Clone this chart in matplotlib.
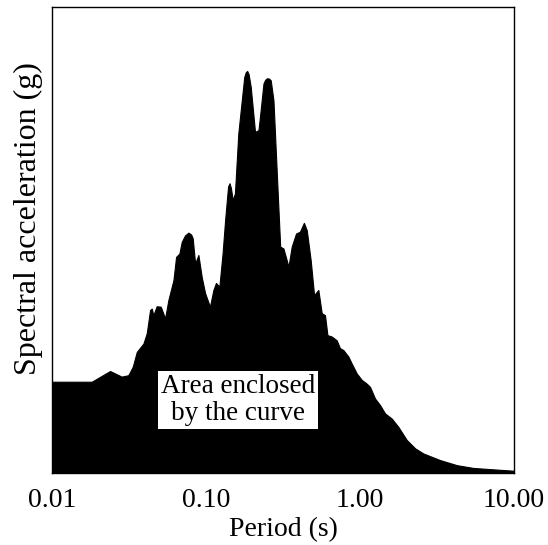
import matplotlib
matplotlib.use("Agg")
import matplotlib.pyplot as plt

plt.rcParams['font.family'] = ['Liberation Serif', 'DejaVu Serif']

# periodo (s) y aceleracion espectral (escala relativa)
periodo = [0.01, 0.0181, 0.0238, 0.0283, 0.0313, 0.0334, 0.0355, 0.0392, 0.0412,
           0.0433, 0.0444, 0.0455, 0.0478, 0.0508, 0.0542, 0.0569, 0.0614, 0.0639,
           0.0671, 0.0695, 0.073, 0.0768, 0.080, 0.0819, 0.0849, 0.0892, 0.0937,
           0.0986, 0.106, 0.1116, 0.116, 0.122, 0.128, 0.133, 0.139, 0.142, 0.145,
           0.149, 0.154, 0.162, 0.177, 0.181, 0.185, 0.189, 0.195, 0.208, 0.219,
           0.224, 0.236, 0.242, 0.248, 0.255, 0.263, 0.274, 0.290, 0.303, 0.318,
           0.343, 0.360, 0.384, 0.407, 0.432, 0.451, 0.478, 0.503, 0.536, 0.564,
           0.592, 0.614, 0.655, 0.705, 0.741, 0.779, 0.840, 0.883, 0.951, 1.025,
           1.104, 1.161, 1.251, 1.348, 1.453, 1.606, 1.774, 2.01, 2.28, 2.58,
           3.30, 4.25, 5.44, 7.34, 10.0]
sa = [0.196, 0.196, 0.219, 0.207, 0.210, 0.228, 0.260, 0.278, 0.300,
      0.350, 0.353, 0.339, 0.358, 0.357, 0.332, 0.371, 0.414, 0.464,
      0.471, 0.496, 0.510, 0.516, 0.512, 0.504, 0.450, 0.468, 0.421,
      0.386, 0.357, 0.393, 0.408, 0.400, 0.471, 0.543, 0.615, 0.622, 0.612,
      0.586, 0.600, 0.729, 0.850, 0.860, 0.863, 0.856, 0.829, 0.732, 0.736,
      0.765, 0.836, 0.844, 0.847, 0.847, 0.843, 0.800, 0.622, 0.486, 0.482,
      0.443, 0.486, 0.514, 0.518, 0.537, 0.521, 0.457, 0.382, 0.393, 0.343,
      0.339, 0.296, 0.293, 0.285, 0.268, 0.264, 0.250, 0.235, 0.214, 0.200,
      0.192, 0.185, 0.160, 0.146, 0.128, 0.117, 0.099, 0.071, 0.053, 0.042,
      0.028, 0.017, 0.011, 0.008, 0.005]

ticks = [0.01, 0.1, 1, 10]
tick_labels = ["0.01", "0.10", "1.00", "10.00"]

fig = plt.figure(figsize=(5.48, 5.45), dpi=100)
ax = fig.add_axes([0.095, 0.132, 0.843, 0.855])

ax.fill_between(periodo, 0, sa, color="black", linewidth=0.8, edgecolor="black")

ax.set_xscale("log")
ax.set_xlim(0.01, 10)
ax.set_ylim(0, 1)
ax.set_xticks(ticks)
ax.set_xticklabels(tick_labels)
ax.minorticks_off()
ax.set_yticks([])
ax.tick_params(axis="x", length=0, pad=11, labelsize=20)

ax.set_xlabel("Period (s)", fontsize=20, labelpad=3)
ax.set_ylabel("Spectral acceleration (g)", fontsize=23)
ax.yaxis.set_label_coords(-0.019, 0.547)

for s in ax.spines.values():
    s.set_linewidth(1.0)

ax.text(0.403, 0.157, "Area enclosed\nby the curve", transform=ax.transAxes,
        ha="center", va="center", fontsize=19.5, linespacing=1.12,
        bbox=dict(facecolor="white", edgecolor="none", pad=2))

fig.savefig("out.png", dpi=100)
